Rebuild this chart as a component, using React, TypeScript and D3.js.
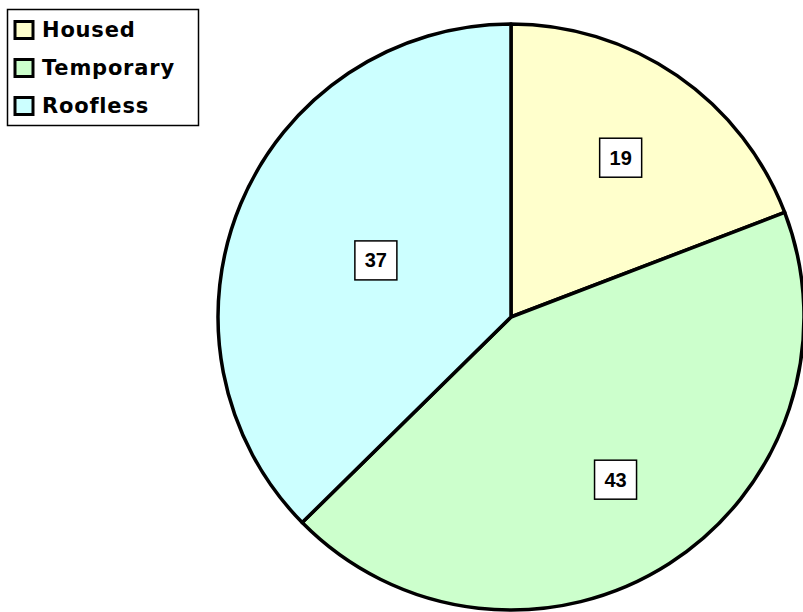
import React from "react";
import * as d3 from "d3";

const categories = ["Housed", "Temporary", "Roofless"];
const values = [19, 43, 37];
const colors = ["#FFFFCC", "#CCFFCC", "#CCFFFF"];
// radial position of each value label, as a fraction of the pie radius
const labelRadius = [0.66, 0.66, 0.5];

const W = 803;
const H = 612;
const cx = 511;
const cy = 317;
const R = 293;

export default function App() {
  const pie = d3
    .pie<number>()
    .sort(null)
    .value((d) => d)
    .startAngle(0)
    .endAngle(2 * Math.PI);
  const arcs = pie(values);
  const arc = d3.arc<d3.PieArcDatum<number>>().innerRadius(0).outerRadius(R);

  return (
    <svg
      width={W}
      height={H}
      style={{ position: "absolute", left: 0, top: 0, background: "#fff" }}
    >
      <g transform={`translate(${cx},${cy})`}>
        {arcs.map((a, i) => (
          <path
            key={categories[i]}
            d={arc(a) || ""}
            fill={colors[i]}
            stroke="#000"
            strokeWidth={3.5}
            strokeLinejoin="round"
          />
        ))}
        {arcs.map((a, i) => {
          const lr = labelRadius[i] * R;
          const [x, y] = d3
            .arc<d3.PieArcDatum<number>>()
            .innerRadius(lr)
            .outerRadius(lr)
            .centroid(a);
          const bw = 42;
          const bh = 39;
          return (
            <g key={"lbl" + i} transform={`translate(${x},${y})`}>
              <rect
                x={-bw / 2}
                y={-bh / 2}
                width={bw}
                height={bh}
                fill="#fff"
                stroke="#000"
                strokeWidth={1.5}
              />
              <text
                textAnchor="middle"
                dominantBaseline="central"
                fontFamily="'Liberation Sans', Arial, sans-serif"
                fontWeight="bold"
                fontSize={20}
                fill="#000"
              >
                {values[i]}
              </text>
            </g>
          );
        })}
      </g>
      <g>
        <rect x={7.5} y={9.5} width={191} height={116} fill="#fff" stroke="#000" strokeWidth={1.5} />
        {categories.map((c, i) => {
          const yc = 30 + i * 38;
          return (
            <g key={c}>
              <rect
                x={15}
                y={yc - 8.5}
                width={18}
                height={17}
                fill={colors[i]}
                stroke="#000"
                strokeWidth={3}
              />
              <text
                x={42}
                y={yc}
                dominantBaseline="central"
                fontFamily="'DejaVu Sans', Verdana, sans-serif"
                fontWeight="bold"
                fontSize={21}
                letterSpacing={0.8}
                fill="#000"
              >
                {c}
              </text>
            </g>
          );
        })}
      </g>
    </svg>
  );
}
